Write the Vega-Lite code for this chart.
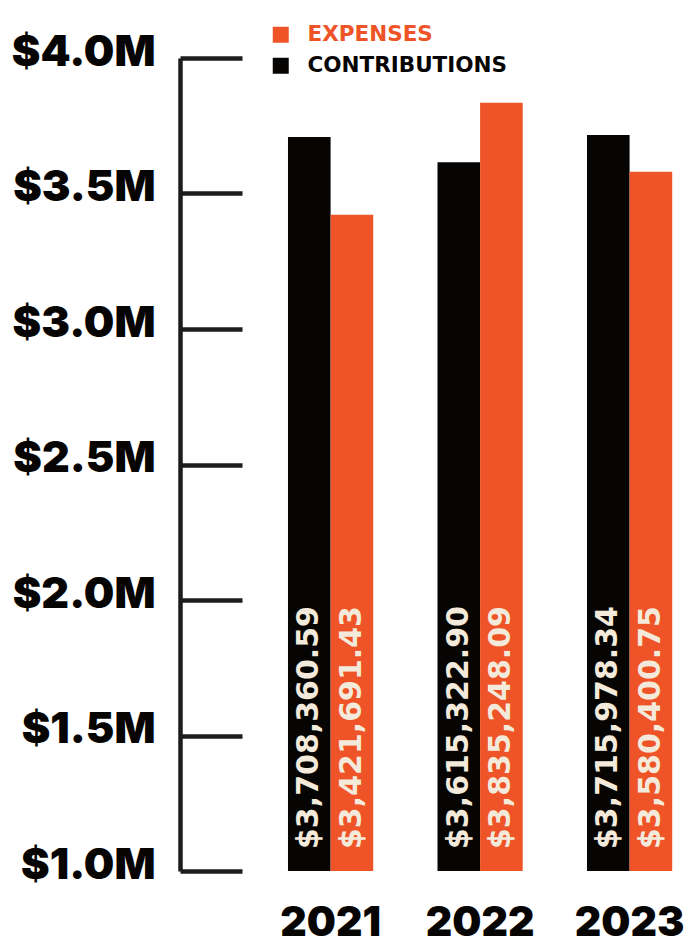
{
  "$schema": "https://vega.github.io/schema/vega-lite/v6.json",
  "width": 505,
  "height": 813,
  "autosize": {"type": "none"},
  "padding": {"left": 180, "top": 58, "right": 0, "bottom": 73},
  "background": "#ffffff",
  "config": {"view": {"stroke": null}},
  "data": {
    "values": [
      {"year": "2021", "type": "CONTRIBUTIONS", "value": 3708360.59, "label": "$3,708,360.59"},
      {"year": "2021", "type": "EXPENSES", "value": 3421691.43, "label": "$3,421,691.43"},
      {"year": "2022", "type": "CONTRIBUTIONS", "value": 3615322.90, "label": "$3,615,322.90"},
      {"year": "2022", "type": "EXPENSES", "value": 3835248.09, "label": "$3,835,248.09"},
      {"year": "2023", "type": "CONTRIBUTIONS", "value": 3715978.34, "label": "$3,715,978.34"},
      {"year": "2023", "type": "EXPENSES", "value": 3580400.75, "label": "$3,580,400.75"}
    ]
  },
  "encoding": {
    "x": {
      "field": "year",
      "type": "nominal",
      "scale": {"paddingInner": 0.43, "paddingOuter": 0.404, "align": 0.894},
      "axis": {
        "title": null,
        "labelAngle": 0,
        "domain": false,
        "ticks": false,
        "labelFont": "Inter",
        "labelFontWeight": 900,
        "labelFontSize": 41,
        "labelColor": "#060504",
        "labelPadding": 32
      }
    },
    "xOffset": {
      "field": "type",
      "type": "nominal",
      "scale": {"domain": ["CONTRIBUTIONS", "EXPENSES"], "paddingInner": 0, "paddingOuter": 0}
    }
  },
  "layer": [
    {
      "mark": {"type": "bar"},
      "encoding": {
        "y": {
          "field": "value",
          "type": "quantitative",
          "stack": null,
          "scale": {"domain": [1000000, 4000000], "zero": false, "nice": false},
          "axis": {
            "title": null,
            "grid": false,
            "values": [1000000, 1500000, 2000000, 2500000, 3000000, 3500000, 4000000],
            "labelExpr": "'$' + format(datum.value / 1000000, '.1f') + 'M'",
            "domainColor": "#1c1c1c",
            "domainWidth": 4.5,
            "tickColor": "#1c1c1c",
            "tickWidth": 4.5,
            "tickSize": -62,
            "labelFont": "Inter",
            "labelFontWeight": 900,
            "labelFontSize": 43,
            "labelColor": "#060504",
            "labelPadding": 87,
            "labelOffset": -6
          }
        },
        "color": {
          "field": "type",
          "type": "nominal",
          "scale": {"domain": ["EXPENSES", "CONTRIBUTIONS"], "range": ["#EE5427", "#060504"]},
          "legend": {
            "title": null,
            "orient": "none",
            "legendX": 90,
            "legendY": -34,
            "padding": 0,
            "symbolType": "square",
            "symbolSize": 256,
            "symbolStrokeWidth": 0,
            "symbolOpacity": 1,
            "labelFont": "DejaVu Sans",
            "labelFontWeight": "bold",
            "labelFontSize": 21.5,
            "labelOffset": 16,
            "rowPadding": 8,
            "labelLimit": 400,
            "encode": {
              "labels": {"update": {"fill": {"signal": "datum.value === 'EXPENSES' ? '#EE5427' : '#060504'"}}}
            }
          }
        }
      }
    },
    {
      "mark": {
        "type": "text",
        "angle": 270,
        "align": "left",
        "baseline": "middle",
        "dx": 22,
        "font": "DejaVu Sans",
        "fontWeight": "bold",
        "fontSize": 30,
        "color": "#F4EADB"
      },
      "encoding": {
        "y": {"datum": 1000000, "type": "quantitative"},
        "text": {"field": "label"}
      }
    }
  ]
}
